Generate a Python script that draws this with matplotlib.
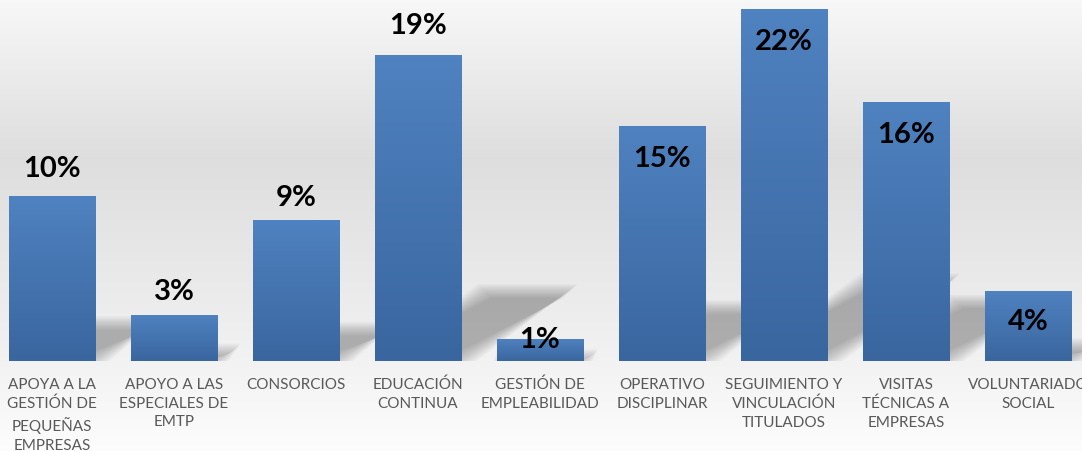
import numpy as np
import matplotlib
matplotlib.use("Agg")
from matplotlib import pyplot as plt
from matplotlib.patches import Polygon

categories = ["APOYA A LA\nGESTIÓN DE\nPEQUEÑAS\nEMPRESAS",
              "APOYO A LAS\nESPECIALES DE\nEMTP",
              "CONSORCIOS",
              "EDUCACIÓN\nCONTINUA",
              "GESTIÓN DE\nEMPLEABILIDAD",
              "OPERATIVO\nDISCIPLINAR",
              "SEGUIMIENTO Y\nVINCULACIÓN\nTITULADOS",
              "VISITAS\nTÉCNICAS A\nEMPRESAS",
              "VOLUNTARIADO\nSOCIAL"]
values = [10.3, 2.9, 8.8, 19.1, 1.4, 14.7, 22.0, 16.2, 4.4]
labels = ["10%", "3%", "9%", "19%", "1%", "15%", "22%", "16%", "4%"]

# label offset from bar top in points (Excel put some inside, some outside)
label_dy = [20, 17, 17, 22, 0, -23, -23, -23, -22]

W, H = 1082, 452
fig = plt.figure(figsize=(W / 100, H / 100), dpi=100)

# background gradient
bg = fig.add_axes([0, 0, 1, 1])
yy = np.linspace(0, 1, 200)
shade = np.interp(yy, [0, 0.3, 0.65, 1.0], [0.99, 0.93, 0.87, 0.97])
bg.imshow(shade[:, None, None] * np.ones((200, 10, 3)), aspect="auto",
          extent=[0, 1, 0, 1], origin="lower")
bg.set_axis_off()

ax = fig.add_axes([-9 / W, (H - 362) / H, 1098 / W, 352 / H])
ax.set_xlim(-0.5, 8.5)
ax.set_ylim(0, 22)
ax.set_axis_off()
ax.patch.set_alpha(0)

x = np.arange(len(values))
bw = 0.705

# soft cast shadows: bar base sheared up and to the right
px_x = 1 / 122.0   # data units per pixel, x
px_y = 22 / 352.0  # data units per pixel, y
for xi, v in zip(x, values):
    hpx = v / px_y
    sx = 0.36 * hpx * px_x
    sy = 0.23 * hpx * px_y
    x0, x1 = xi - bw / 2, xi + bw / 2
    for e in np.linspace(7, -7, 15):
        ex, ey = e * px_x, e * px_y
        pts = [(x0 - ex, 0 - ey), (x1 + ex, 0 - ey),
               (x1 + sx + ex, sy + ey), (x0 + sx - ex, sy + ey)]
        ax.add_patch(Polygon(pts, closed=True, facecolor="black",
                             edgecolor="none", alpha=0.018, zorder=1))

bars = ax.bar(x, values, width=bw, color="none", zorder=2)
grad = np.linspace(0, 1, 100)[:, None]
top = np.array([0x4f, 0x82, 0xc0]) / 255
bot = np.array([0x3a, 0x66, 0x9f]) / 255
img = bot + (top - bot) * grad[:, :, None]
for b in bars:
    x0, w, h = b.get_x(), b.get_width(), b.get_height()
    im = ax.imshow(img, extent=[x0, x0 + w, 0, h], origin="lower",
                   aspect="auto", zorder=2)
    im.set_clip_path(b)
ax.set_xlim(-0.5, 8.5)
ax.set_ylim(0, 22)

for xi, v, lab, dy in zip(x, values, labels, label_dy):
    ax.annotate(lab, (xi, v), xytext=(0, dy), textcoords="offset points",
                ha="center", va="center", fontsize=21, fontweight="bold",
                family="Lato", color="black", zorder=5)

for xi, cat in zip(x, categories):
    ax.annotate(cat, (xi, 0), xytext=(0, -11.5), textcoords="offset points",
                ha="center", va="top", fontsize=11, family="Lato",
                color="#595959", linespacing=1.43, annotation_clip=False)

fig.savefig("out.png", dpi=100)
